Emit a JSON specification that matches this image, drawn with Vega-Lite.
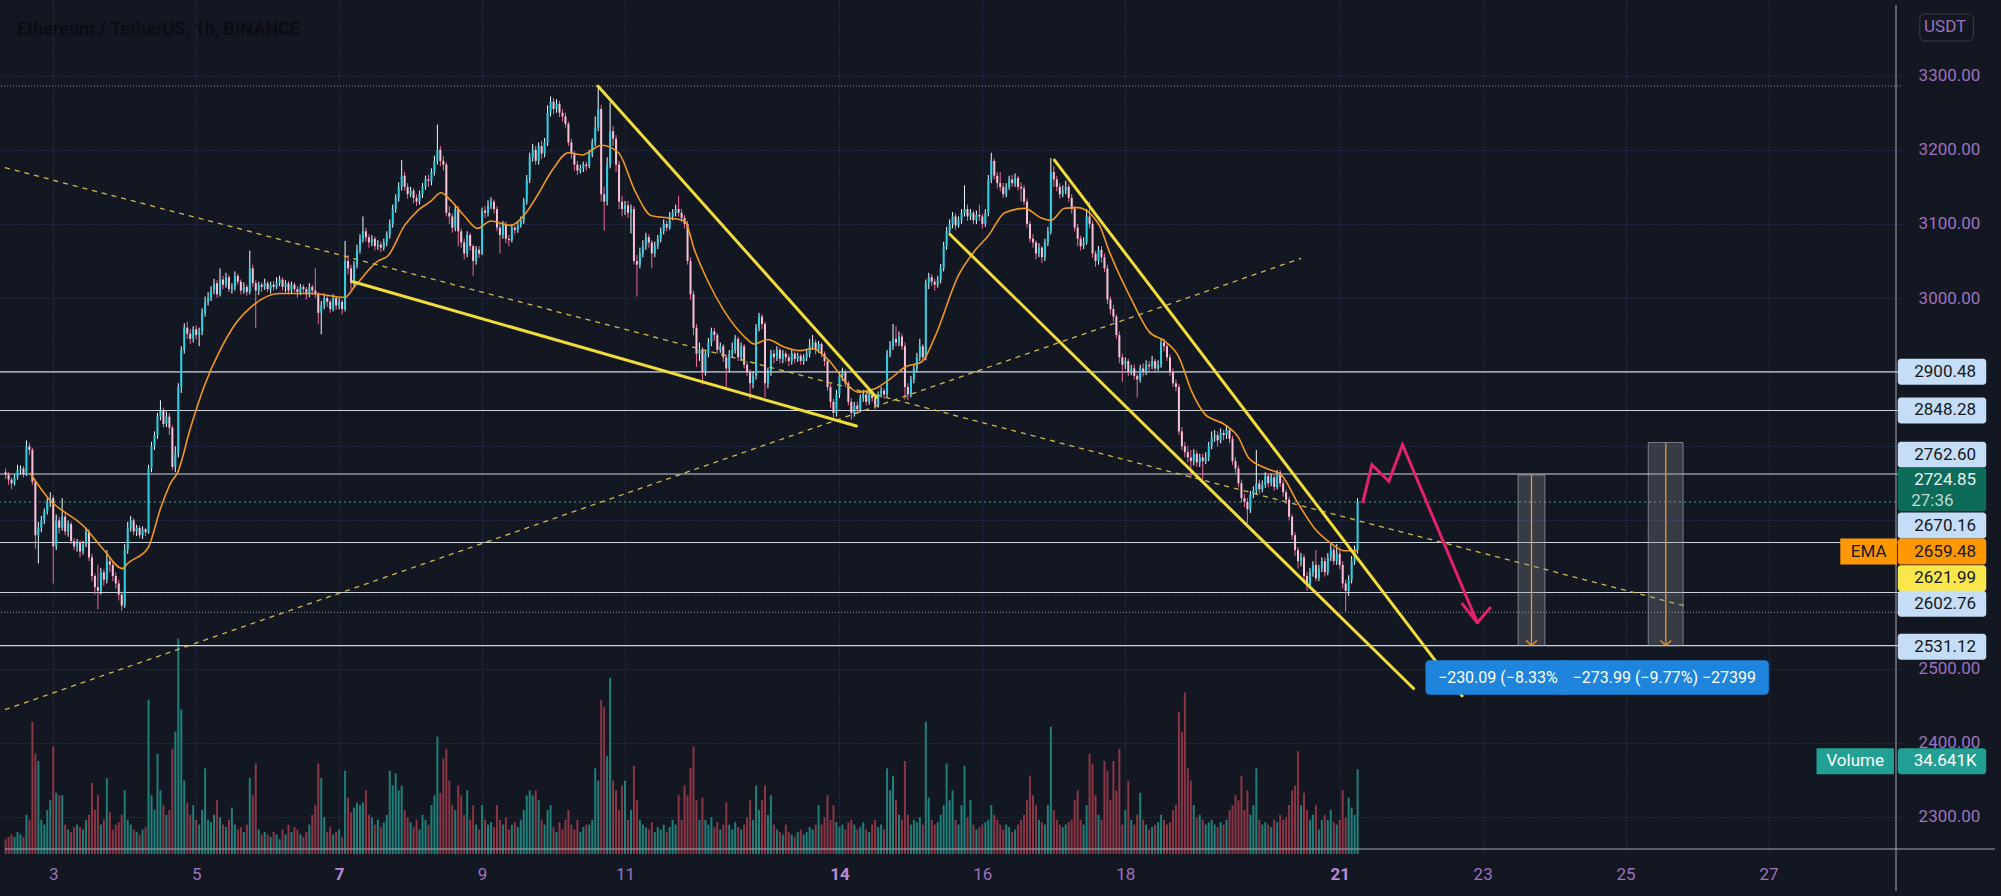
{
"$schema": "https://vega.github.io/schema/vega-lite/v6.json",
"width": 1901, "height": 854,
"autosize": {"type": "none"},
"padding": {"left": 0, "top": 0, "right": 100, "bottom": 42},
"background": "#131722",
"config": {"view": {"stroke": null}, "font": "Roboto"},
"datasets": {
"candles": [
{"t":32,"o":2765,"h":2770,"l":2756,"c":2762,"v":6},{"t":33,"o":2762,"h":2765,"l":2748,"c":2755,"v":7},{"t":34,"o":2755,"h":2758,"l":2742,"c":2750,"v":8},{"t":35,"o":2750,"h":2762,"l":2747,"c":2758,"v":7},{"t":36,"o":2758,"h":2775,"l":2755,"c":2768,"v":9},{"t":37,"o":2768,"h":2774,"l":2762,"c":2770,"v":8},{"t":38,"o":2770,"h":2773,"l":2758,"c":2762,"v":7},{"t":39,"o":2762,"h":2808,"l":2760,"c":2800,"v":16},{"t":40,"o":2800,"h":2805,"l":2788,"c":2795,"v":14},{"t":41,"o":2795,"h":2798,"l":2748,"c":2752,"v":54},
{"t":42,"o":2752,"h":2755,"l":2662,"c":2680,"v":41},{"t":43,"o":2680,"h":2698,"l":2642,"c":2690,"v":38},{"t":44,"o":2690,"h":2706,"l":2684,"c":2700,"v":14},{"t":45,"o":2700,"h":2716,"l":2695,"c":2712,"v":12},{"t":46,"o":2712,"h":2730,"l":2708,"c":2725,"v":18},{"t":47,"o":2725,"h":2738,"l":2718,"c":2730,"v":22},{"t":48,"o":2730,"h":2734,"l":2615,"c":2665,"v":44},{"t":49,"o":2665,"h":2708,"l":2660,"c":2700,"v":25},{"t":50,"o":2700,"h":2705,"l":2682,"c":2690,"v":24},{"t":51,"o":2690,"h":2730,"l":2686,"c":2705,"v":24},
{"t":52,"o":2705,"h":2710,"l":2680,"c":2685,"v":12},{"t":53,"o":2685,"h":2700,"l":2678,"c":2695,"v":10},{"t":54,"o":2695,"h":2698,"l":2668,"c":2672,"v":9},{"t":55,"o":2672,"h":2676,"l":2660,"c":2665,"v":11},{"t":56,"o":2665,"h":2675,"l":2658,"c":2670,"v":12},{"t":57,"o":2670,"h":2673,"l":2650,"c":2658,"v":11},{"t":58,"o":2658,"h":2672,"l":2654,"c":2668,"v":10},{"t":59,"o":2668,"h":2690,"l":2664,"c":2685,"v":14},{"t":60,"o":2685,"h":2688,"l":2645,"c":2650,"v":16},{"t":61,"o":2650,"h":2655,"l":2618,"c":2625,"v":29},
{"t":62,"o":2625,"h":2628,"l":2600,"c":2610,"v":18},{"t":63,"o":2610,"h":2640,"l":2580,"c":2605,"v":24},{"t":64,"o":2605,"h":2636,"l":2600,"c":2630,"v":12},{"t":65,"o":2630,"h":2634,"l":2612,"c":2620,"v":14},{"t":66,"o":2620,"h":2660,"l":2615,"c":2645,"v":31},{"t":67,"o":2645,"h":2650,"l":2630,"c":2640,"v":17},{"t":68,"o":2640,"h":2644,"l":2618,"c":2625,"v":10},{"t":69,"o":2625,"h":2630,"l":2608,"c":2615,"v":12},{"t":70,"o":2615,"h":2620,"l":2592,"c":2600,"v":13},{"t":71,"o":2600,"h":2604,"l":2578,"c":2585,"v":16},
{"t":72,"o":2585,"h":2668,"l":2582,"c":2660,"v":26},{"t":73,"o":2660,"h":2698,"l":2655,"c":2690,"v":14},{"t":74,"o":2690,"h":2706,"l":2685,"c":2700,"v":12},{"t":75,"o":2700,"h":2703,"l":2680,"c":2685,"v":10},{"t":76,"o":2685,"h":2694,"l":2679,"c":2690,"v":9},{"t":77,"o":2690,"h":2693,"l":2676,"c":2680,"v":8},{"t":78,"o":2680,"h":2692,"l":2675,"c":2688,"v":10},{"t":79,"o":2688,"h":2690,"l":2679,"c":2684,"v":11},{"t":80,"o":2684,"h":2775,"l":2682,"c":2770,"v":63},{"t":81,"o":2770,"h":2806,"l":2765,"c":2800,"v":24},
{"t":82,"o":2800,"h":2820,"l":2795,"c":2815,"v":18},{"t":83,"o":2815,"h":2845,"l":2810,"c":2840,"v":41},{"t":84,"o":2840,"h":2862,"l":2835,"c":2848,"v":26},{"t":85,"o":2848,"h":2852,"l":2825,"c":2830,"v":20},{"t":86,"o":2830,"h":2847,"l":2826,"c":2840,"v":16},{"t":87,"o":2840,"h":2845,"l":2815,"c":2825,"v":18},{"t":88,"o":2825,"h":2828,"l":2768,"c":2772,"v":43},{"t":89,"o":2772,"h":2800,"l":2765,"c":2790,"v":50},{"t":90,"o":2790,"h":2885,"l":2785,"c":2880,"v":88},{"t":91,"o":2880,"h":2935,"l":2872,"c":2930,"v":59},
{"t":92,"o":2930,"h":2966,"l":2925,"c":2960,"v":30},{"t":93,"o":2960,"h":2968,"l":2945,"c":2952,"v":21},{"t":94,"o":2952,"h":2958,"l":2938,"c":2945,"v":16},{"t":95,"o":2945,"h":2962,"l":2940,"c":2958,"v":20},{"t":96,"o":2958,"h":2963,"l":2944,"c":2950,"v":14},{"t":97,"o":2950,"h":2960,"l":2935,"c":2955,"v":12},{"t":98,"o":2955,"h":2986,"l":2950,"c":2980,"v":18},{"t":99,"o":2980,"h":3002,"l":2975,"c":2995,"v":35},{"t":100,"o":2995,"h":3008,"l":2990,"c":3000,"v":14},{"t":101,"o":3000,"h":3016,"l":2996,"c":3010,"v":13},
{"t":102,"o":3010,"h":3026,"l":3005,"c":3020,"v":16},{"t":103,"o":3020,"h":3024,"l":3000,"c":3005,"v":22},{"t":104,"o":3005,"h":3040,"l":3002,"c":3025,"v":15},{"t":105,"o":3025,"h":3030,"l":3012,"c":3018,"v":12},{"t":106,"o":3018,"h":3034,"l":3014,"c":3028,"v":11},{"t":107,"o":3028,"h":3031,"l":3008,"c":3012,"v":14},{"t":108,"o":3012,"h":3020,"l":3006,"c":3015,"v":19},{"t":109,"o":3015,"h":3036,"l":3010,"c":3030,"v":12},{"t":110,"o":3030,"h":3033,"l":3018,"c":3022,"v":10},{"t":111,"o":3022,"h":3025,"l":3005,"c":3010,"v":11},
{"t":112,"o":3010,"h":3021,"l":3006,"c":3015,"v":9},{"t":113,"o":3015,"h":3018,"l":3003,"c":3008,"v":12},{"t":114,"o":3008,"h":3064,"l":3005,"c":3040,"v":31},{"t":115,"o":3040,"h":3045,"l":3015,"c":3020,"v":24},{"t":116,"o":3020,"h":3024,"l":2960,"c":3010,"v":37},{"t":117,"o":3010,"h":3022,"l":3004,"c":3018,"v":10},{"t":118,"o":3018,"h":3021,"l":3008,"c":3015,"v":8},{"t":119,"o":3015,"h":3026,"l":3011,"c":3020,"v":9},{"t":120,"o":3020,"h":3023,"l":3008,"c":3012,"v":8},{"t":121,"o":3012,"h":3022,"l":3006,"c":3018,"v":7},
{"t":122,"o":3018,"h":3023,"l":3010,"c":3015,"v":9},{"t":123,"o":3015,"h":3028,"l":3012,"c":3020,"v":8},{"t":124,"o":3020,"h":3030,"l":3016,"c":3025,"v":6},{"t":125,"o":3025,"h":3028,"l":3010,"c":3015,"v":10},{"t":126,"o":3015,"h":3024,"l":3008,"c":3020,"v":8},{"t":127,"o":3020,"h":3023,"l":3005,"c":3010,"v":12},{"t":128,"o":3010,"h":3022,"l":3006,"c":3018,"v":9},{"t":129,"o":3018,"h":3021,"l":3008,"c":3012,"v":11},{"t":130,"o":3012,"h":3016,"l":3000,"c":3008,"v":10},{"t":131,"o":3008,"h":3019,"l":3004,"c":3015,"v":8},
{"t":132,"o":3015,"h":3018,"l":3007,"c":3012,"v":7},{"t":133,"o":3012,"h":3015,"l":2998,"c":3005,"v":9},{"t":134,"o":3005,"h":3020,"l":3001,"c":3015,"v":12},{"t":135,"o":3015,"h":3018,"l":3004,"c":3010,"v":16},{"t":136,"o":3010,"h":3040,"l":3000,"c":3005,"v":20},{"t":137,"o":3005,"h":3008,"l":2965,"c":2980,"v":37},{"t":138,"o":2980,"h":2996,"l":2951,"c":2990,"v":31},{"t":139,"o":2990,"h":3006,"l":2985,"c":3000,"v":15},{"t":140,"o":3000,"h":3004,"l":2988,"c":2995,"v":9},{"t":141,"o":2995,"h":2998,"l":2980,"c":2985,"v":11},
{"t":142,"o":2985,"h":3005,"l":2982,"c":3000,"v":8},{"t":143,"o":3000,"h":3003,"l":2984,"c":2990,"v":9},{"t":144,"o":2990,"h":3000,"l":2985,"c":2995,"v":10},{"t":145,"o":2995,"h":2998,"l":2978,"c":2985,"v":7},{"t":146,"o":2985,"h":3077,"l":2982,"c":3050,"v":34},{"t":147,"o":3050,"h":3058,"l":3032,"c":3040,"v":23},{"t":148,"o":3040,"h":3045,"l":3010,"c":3020,"v":17},{"t":149,"o":3020,"h":3050,"l":3016,"c":3045,"v":19},{"t":150,"o":3045,"h":3072,"l":3040,"c":3065,"v":21},{"t":151,"o":3065,"h":3086,"l":3060,"c":3080,"v":20},
{"t":152,"o":3080,"h":3110,"l":3075,"c":3090,"v":21},{"t":153,"o":3090,"h":3095,"l":3076,"c":3082,"v":26},{"t":154,"o":3082,"h":3086,"l":3068,"c":3075,"v":16},{"t":155,"o":3075,"h":3085,"l":3070,"c":3080,"v":15},{"t":156,"o":3080,"h":3083,"l":3064,"c":3070,"v":12},{"t":157,"o":3070,"h":3078,"l":3065,"c":3072,"v":14},{"t":158,"o":3072,"h":3076,"l":3062,"c":3068,"v":11},{"t":159,"o":3068,"h":3080,"l":3064,"c":3075,"v":13},{"t":160,"o":3075,"h":3090,"l":3070,"c":3085,"v":16},{"t":161,"o":3085,"h":3106,"l":3080,"c":3100,"v":34},
{"t":162,"o":3100,"h":3126,"l":3095,"c":3120,"v":28},{"t":163,"o":3120,"h":3140,"l":3115,"c":3135,"v":33},{"t":164,"o":3135,"h":3156,"l":3130,"c":3150,"v":26},{"t":165,"o":3150,"h":3186,"l":3145,"c":3165,"v":28},{"t":166,"o":3165,"h":3170,"l":3145,"c":3150,"v":18},{"t":167,"o":3150,"h":3155,"l":3134,"c":3140,"v":15},{"t":168,"o":3140,"h":3150,"l":3136,"c":3145,"v":13},{"t":169,"o":3145,"h":3148,"l":3128,"c":3135,"v":11},{"t":170,"o":3135,"h":3140,"l":3124,"c":3130,"v":14},{"t":171,"o":3130,"h":3145,"l":3126,"c":3140,"v":10},
{"t":172,"o":3140,"h":3155,"l":3135,"c":3150,"v":16},{"t":173,"o":3150,"h":3165,"l":3146,"c":3160,"v":14},{"t":174,"o":3160,"h":3166,"l":3150,"c":3158,"v":12},{"t":175,"o":3158,"h":3175,"l":3152,"c":3170,"v":20},{"t":176,"o":3170,"h":3192,"l":3165,"c":3185,"v":24},{"t":177,"o":3185,"h":3234,"l":3180,"c":3200,"v":48},{"t":178,"o":3200,"h":3205,"l":3178,"c":3185,"v":25},{"t":179,"o":3185,"h":3192,"l":3172,"c":3180,"v":39},{"t":180,"o":3180,"h":3183,"l":3110,"c":3115,"v":43},{"t":181,"o":3115,"h":3124,"l":3100,"c":3110,"v":30},
{"t":182,"o":3110,"h":3114,"l":3088,"c":3095,"v":20},{"t":183,"o":3095,"h":3126,"l":3090,"c":3120,"v":18},{"t":184,"o":3120,"h":3124,"l":3070,"c":3090,"v":28},{"t":185,"o":3090,"h":3094,"l":3068,"c":3075,"v":24},{"t":186,"o":3075,"h":3080,"l":3052,"c":3060,"v":16},{"t":187,"o":3060,"h":3090,"l":3055,"c":3085,"v":26},{"t":188,"o":3085,"h":3088,"l":3064,"c":3070,"v":14},{"t":189,"o":3070,"h":3072,"l":3030,"c":3050,"v":20},{"t":190,"o":3050,"h":3070,"l":3045,"c":3065,"v":12},{"t":191,"o":3065,"h":3070,"l":3054,"c":3060,"v":10},
{"t":192,"o":3060,"h":3122,"l":3058,"c":3118,"v":20},{"t":193,"o":3118,"h":3124,"l":3108,"c":3115,"v":14},{"t":194,"o":3115,"h":3132,"l":3110,"c":3125,"v":12},{"t":195,"o":3125,"h":3136,"l":3120,"c":3130,"v":13},{"t":196,"o":3130,"h":3133,"l":3114,"c":3120,"v":11},{"t":197,"o":3120,"h":3124,"l":3090,"c":3095,"v":20},{"t":198,"o":3095,"h":3100,"l":3060,"c":3085,"v":14},{"t":199,"o":3085,"h":3104,"l":3080,"c":3100,"v":12},{"t":200,"o":3100,"h":3103,"l":3074,"c":3080,"v":15},{"t":201,"o":3080,"h":3085,"l":3070,"c":3078,"v":10},
{"t":202,"o":3078,"h":3100,"l":3075,"c":3095,"v":12},{"t":203,"o":3095,"h":3098,"l":3086,"c":3092,"v":13},{"t":204,"o":3092,"h":3103,"l":3088,"c":3098,"v":11},{"t":205,"o":3098,"h":3110,"l":3095,"c":3105,"v":14},{"t":206,"o":3105,"h":3135,"l":3100,"c":3130,"v":18},{"t":207,"o":3130,"h":3166,"l":3126,"c":3160,"v":24},{"t":208,"o":3160,"h":3196,"l":3155,"c":3190,"v":26},{"t":209,"o":3190,"h":3208,"l":3184,"c":3200,"v":24},{"t":210,"o":3200,"h":3205,"l":3180,"c":3185,"v":26},{"t":211,"o":3185,"h":3210,"l":3180,"c":3205,"v":22},
{"t":212,"o":3205,"h":3212,"l":3188,"c":3195,"v":14},{"t":213,"o":3195,"h":3216,"l":3190,"c":3210,"v":12},{"t":214,"o":3210,"h":3260,"l":3205,"c":3250,"v":18},{"t":215,"o":3250,"h":3272,"l":3245,"c":3265,"v":20},{"t":216,"o":3265,"h":3270,"l":3248,"c":3255,"v":11},{"t":217,"o":3255,"h":3268,"l":3250,"c":3262,"v":9},{"t":218,"o":3262,"h":3266,"l":3244,"c":3250,"v":13},{"t":219,"o":3250,"h":3255,"l":3238,"c":3245,"v":10},{"t":220,"o":3245,"h":3250,"l":3230,"c":3235,"v":14},{"t":221,"o":3235,"h":3238,"l":3205,"c":3210,"v":18},
{"t":222,"o":3210,"h":3215,"l":3188,"c":3195,"v":12},{"t":223,"o":3195,"h":3198,"l":3172,"c":3180,"v":10},{"t":224,"o":3180,"h":3185,"l":3166,"c":3172,"v":14},{"t":225,"o":3172,"h":3180,"l":3168,"c":3175,"v":9},{"t":226,"o":3175,"h":3184,"l":3170,"c":3180,"v":11},{"t":227,"o":3180,"h":3184,"l":3172,"c":3178,"v":12},{"t":228,"o":3178,"h":3200,"l":3175,"c":3195,"v":12},{"t":229,"o":3195,"h":3215,"l":3190,"c":3210,"v":14},{"t":230,"o":3210,"h":3245,"l":3205,"c":3230,"v":35},{"t":231,"o":3230,"h":3286,"l":3225,"c":3255,"v":30},
{"t":232,"o":3255,"h":3260,"l":3130,"c":3140,"v":63},{"t":233,"o":3140,"h":3150,"l":3091,"c":3130,"v":60},{"t":234,"o":3130,"h":3190,"l":3125,"c":3180,"v":40},{"t":235,"o":3180,"h":3264,"l":3175,"c":3225,"v":72},{"t":236,"o":3225,"h":3232,"l":3205,"c":3215,"v":30},{"t":237,"o":3215,"h":3220,"l":3170,"c":3180,"v":26},{"t":238,"o":3180,"h":3185,"l":3120,"c":3130,"v":18},{"t":239,"o":3130,"h":3138,"l":3110,"c":3120,"v":28},{"t":240,"o":3120,"h":3131,"l":3112,"c":3125,"v":30},{"t":241,"o":3125,"h":3131,"l":3108,"c":3115,"v":14},
{"t":242,"o":3115,"h":3126,"l":3087,"c":3120,"v":18},{"t":243,"o":3120,"h":3124,"l":3045,"c":3050,"v":36},{"t":244,"o":3050,"h":3058,"l":3002,"c":3045,"v":22},{"t":245,"o":3045,"h":3068,"l":3040,"c":3060,"v":14},{"t":246,"o":3060,"h":3078,"l":3055,"c":3070,"v":12},{"t":247,"o":3070,"h":3088,"l":3065,"c":3082,"v":11},{"t":248,"o":3082,"h":3086,"l":3068,"c":3075,"v":10},{"t":249,"o":3075,"h":3078,"l":3040,"c":3060,"v":13},{"t":250,"o":3060,"h":3076,"l":3055,"c":3070,"v":9},{"t":251,"o":3070,"h":3085,"l":3066,"c":3080,"v":11},
{"t":252,"o":3080,"h":3095,"l":3075,"c":3090,"v":10},{"t":253,"o":3090,"h":3106,"l":3086,"c":3100,"v":12},{"t":254,"o":3100,"h":3104,"l":3090,"c":3095,"v":9},{"t":255,"o":3095,"h":3116,"l":3092,"c":3110,"v":11},{"t":256,"o":3110,"h":3120,"l":3105,"c":3115,"v":14},{"t":257,"o":3115,"h":3126,"l":3110,"c":3120,"v":12},{"t":258,"o":3120,"h":3138,"l":3110,"c":3115,"v":24},{"t":259,"o":3115,"h":3120,"l":3102,"c":3108,"v":14},{"t":260,"o":3108,"h":3112,"l":3094,"c":3100,"v":28},{"t":261,"o":3100,"h":3104,"l":3045,"c":3050,"v":24},
{"t":262,"o":3050,"h":3055,"l":2998,"c":3005,"v":35},{"t":263,"o":3005,"h":3010,"l":2950,"c":2960,"v":44},{"t":264,"o":2960,"h":2965,"l":2907,"c":2925,"v":22},{"t":265,"o":2925,"h":2940,"l":2915,"c":2930,"v":14},{"t":266,"o":2930,"h":2934,"l":2883,"c":2900,"v":23},{"t":267,"o":2900,"h":2930,"l":2895,"c":2925,"v":14},{"t":268,"o":2925,"h":2946,"l":2920,"c":2940,"v":12},{"t":269,"o":2940,"h":2960,"l":2935,"c":2955,"v":15},{"t":270,"o":2955,"h":2960,"l":2942,"c":2950,"v":11},{"t":271,"o":2950,"h":2953,"l":2925,"c":2930,"v":13},
{"t":272,"o":2930,"h":2940,"l":2926,"c":2935,"v":10},{"t":273,"o":2935,"h":2938,"l":2914,"c":2920,"v":12},{"t":274,"o":2920,"h":2924,"l":2880,"c":2905,"v":21},{"t":275,"o":2905,"h":2930,"l":2900,"c":2925,"v":12},{"t":276,"o":2925,"h":2940,"l":2920,"c":2930,"v":10},{"t":277,"o":2930,"h":2950,"l":2925,"c":2945,"v":13},{"t":278,"o":2945,"h":2948,"l":2915,"c":2920,"v":11},{"t":279,"o":2920,"h":2940,"l":2915,"c":2935,"v":10},{"t":280,"o":2935,"h":2938,"l":2905,"c":2910,"v":12},{"t":281,"o":2910,"h":2915,"l":2895,"c":2900,"v":15},
{"t":282,"o":2900,"h":2904,"l":2863,"c":2885,"v":22},{"t":283,"o":2885,"h":2900,"l":2878,"c":2895,"v":14},{"t":284,"o":2895,"h":2965,"l":2890,"c":2960,"v":28},{"t":285,"o":2960,"h":2980,"l":2955,"c":2975,"v":18},{"t":286,"o":2975,"h":2978,"l":2958,"c":2965,"v":22},{"t":287,"o":2965,"h":2968,"l":2866,"c":2885,"v":28},{"t":288,"o":2885,"h":2906,"l":2878,"c":2900,"v":16},{"t":289,"o":2900,"h":2930,"l":2895,"c":2925,"v":24},{"t":290,"o":2925,"h":2930,"l":2912,"c":2920,"v":12},{"t":291,"o":2920,"h":2935,"l":2915,"c":2930,"v":10},
{"t":292,"o":2930,"h":2933,"l":2912,"c":2918,"v":9},{"t":293,"o":2918,"h":2930,"l":2912,"c":2925,"v":8},{"t":294,"o":2925,"h":2928,"l":2914,"c":2920,"v":12},{"t":295,"o":2920,"h":2924,"l":2908,"c":2915,"v":9},{"t":296,"o":2915,"h":2930,"l":2910,"c":2925,"v":8},{"t":297,"o":2925,"h":2928,"l":2912,"c":2918,"v":7},{"t":298,"o":2918,"h":2926,"l":2914,"c":2922,"v":9},{"t":299,"o":2922,"h":2925,"l":2910,"c":2915,"v":10},{"t":300,"o":2915,"h":2924,"l":2910,"c":2920,"v":8},{"t":301,"o":2920,"h":2930,"l":2915,"c":2925,"v":9},
{"t":302,"o":2925,"h":2945,"l":2920,"c":2935,"v":11},{"t":303,"o":2935,"h":2950,"l":2930,"c":2940,"v":10},{"t":304,"o":2940,"h":2944,"l":2924,"c":2930,"v":12},{"t":305,"o":2930,"h":2942,"l":2926,"c":2938,"v":20},{"t":306,"o":2938,"h":2940,"l":2920,"c":2925,"v":12},{"t":307,"o":2925,"h":2928,"l":2908,"c":2915,"v":15},{"t":308,"o":2915,"h":2918,"l":2875,"c":2880,"v":24},{"t":309,"o":2880,"h":2884,"l":2852,"c":2860,"v":14},{"t":310,"o":2860,"h":2864,"l":2839,"c":2845,"v":20},{"t":311,"o":2845,"h":2876,"l":2840,"c":2870,"v":13},
{"t":312,"o":2870,"h":2900,"l":2865,"c":2895,"v":11},{"t":313,"o":2895,"h":2906,"l":2888,"c":2900,"v":12},{"t":314,"o":2900,"h":2904,"l":2880,"c":2885,"v":10},{"t":315,"o":2885,"h":2888,"l":2855,"c":2860,"v":13},{"t":316,"o":2860,"h":2865,"l":2836,"c":2845,"v":14},{"t":317,"o":2845,"h":2860,"l":2840,"c":2855,"v":12},{"t":318,"o":2855,"h":2860,"l":2845,"c":2850,"v":10},{"t":319,"o":2850,"h":2870,"l":2846,"c":2865,"v":11},{"t":320,"o":2865,"h":2876,"l":2860,"c":2870,"v":13},{"t":321,"o":2870,"h":2874,"l":2855,"c":2860,"v":10},
{"t":322,"o":2860,"h":2875,"l":2856,"c":2870,"v":9},{"t":323,"o":2870,"h":2874,"l":2860,"c":2865,"v":12},{"t":324,"o":2865,"h":2868,"l":2850,"c":2855,"v":14},{"t":325,"o":2855,"h":2874,"l":2852,"c":2870,"v":11},{"t":326,"o":2870,"h":2880,"l":2866,"c":2875,"v":12},{"t":327,"o":2875,"h":2878,"l":2864,"c":2870,"v":10},{"t":328,"o":2870,"h":2930,"l":2866,"c":2925,"v":35},{"t":329,"o":2925,"h":2942,"l":2920,"c":2935,"v":26},{"t":330,"o":2935,"h":2965,"l":2930,"c":2945,"v":32},{"t":331,"o":2945,"h":2962,"l":2935,"c":2940,"v":22},
{"t":332,"o":2940,"h":2955,"l":2935,"c":2948,"v":16},{"t":333,"o":2948,"h":2952,"l":2930,"c":2935,"v":14},{"t":334,"o":2935,"h":2940,"l":2863,"c":2880,"v":38},{"t":335,"o":2880,"h":2885,"l":2862,"c":2870,"v":16},{"t":336,"o":2870,"h":2895,"l":2866,"c":2890,"v":12},{"t":337,"o":2890,"h":2910,"l":2885,"c":2905,"v":14},{"t":338,"o":2905,"h":2926,"l":2900,"c":2920,"v":13},{"t":339,"o":2920,"h":2945,"l":2915,"c":2935,"v":15},{"t":340,"o":2935,"h":2938,"l":2914,"c":2920,"v":12},{"t":341,"o":2920,"h":3025,"l":2916,"c":3020,"v":54},
{"t":342,"o":3020,"h":3034,"l":3012,"c":3028,"v":23},{"t":343,"o":3028,"h":3032,"l":3016,"c":3022,"v":14},{"t":344,"o":3022,"h":3026,"l":3010,"c":3018,"v":12},{"t":345,"o":3018,"h":3030,"l":3014,"c":3025,"v":13},{"t":346,"o":3025,"h":3046,"l":3020,"c":3040,"v":16},{"t":347,"o":3040,"h":3076,"l":3036,"c":3070,"v":20},{"t":348,"o":3070,"h":3096,"l":3065,"c":3090,"v":37},{"t":349,"o":3090,"h":3106,"l":3085,"c":3100,"v":22},{"t":350,"o":3100,"h":3116,"l":3094,"c":3110,"v":26},{"t":351,"o":3110,"h":3114,"l":3092,"c":3098,"v":14},
{"t":352,"o":3098,"h":3110,"l":3095,"c":3105,"v":12},{"t":353,"o":3105,"h":3120,"l":3100,"c":3115,"v":20},{"t":354,"o":3115,"h":3152,"l":3110,"c":3120,"v":36},{"t":355,"o":3120,"h":3126,"l":3104,"c":3110,"v":15},{"t":356,"o":3110,"h":3120,"l":3105,"c":3115,"v":22},{"t":357,"o":3115,"h":3118,"l":3100,"c":3105,"v":12},{"t":358,"o":3105,"h":3118,"l":3100,"c":3112,"v":10},{"t":359,"o":3112,"h":3126,"l":3104,"c":3110,"v":11},{"t":360,"o":3110,"h":3114,"l":3094,"c":3100,"v":12},{"t":361,"o":3100,"h":3120,"l":3096,"c":3115,"v":13},
{"t":362,"o":3115,"h":3166,"l":3110,"c":3160,"v":14},{"t":363,"o":3160,"h":3196,"l":3155,"c":3185,"v":20},{"t":364,"o":3185,"h":3188,"l":3160,"c":3165,"v":16},{"t":365,"o":3165,"h":3170,"l":3148,"c":3155,"v":14},{"t":366,"o":3155,"h":3170,"l":3144,"c":3150,"v":12},{"t":367,"o":3150,"h":3155,"l":3135,"c":3140,"v":10},{"t":368,"o":3140,"h":3155,"l":3136,"c":3150,"v":12},{"t":369,"o":3150,"h":3165,"l":3146,"c":3160,"v":11},{"t":370,"o":3160,"h":3166,"l":3150,"c":3155,"v":9},{"t":371,"o":3155,"h":3168,"l":3150,"c":3162,"v":10},
{"t":372,"o":3162,"h":3165,"l":3145,"c":3150,"v":12},{"t":373,"o":3150,"h":3156,"l":3130,"c":3148,"v":14},{"t":374,"o":3148,"h":3152,"l":3125,"c":3130,"v":16},{"t":375,"o":3130,"h":3134,"l":3095,"c":3100,"v":22},{"t":376,"o":3100,"h":3104,"l":3075,"c":3080,"v":32},{"t":377,"o":3080,"h":3086,"l":3068,"c":3075,"v":24},{"t":378,"o":3075,"h":3078,"l":3052,"c":3060,"v":20},{"t":379,"o":3060,"h":3074,"l":3055,"c":3068,"v":14},{"t":380,"o":3068,"h":3070,"l":3047,"c":3055,"v":13},{"t":381,"o":3055,"h":3080,"l":3050,"c":3075,"v":12},
{"t":382,"o":3075,"h":3096,"l":3070,"c":3090,"v":20},{"t":383,"o":3090,"h":3189,"l":3086,"c":3170,"v":52},{"t":384,"o":3170,"h":3178,"l":3150,"c":3160,"v":18},{"t":385,"o":3160,"h":3165,"l":3144,"c":3150,"v":14},{"t":386,"o":3150,"h":3155,"l":3134,"c":3140,"v":12},{"t":387,"o":3140,"h":3152,"l":3136,"c":3145,"v":11},{"t":388,"o":3145,"h":3158,"l":3140,"c":3150,"v":12},{"t":389,"o":3150,"h":3154,"l":3130,"c":3135,"v":13},{"t":390,"o":3135,"h":3140,"l":3114,"c":3120,"v":14},{"t":391,"o":3120,"h":3124,"l":3090,"c":3095,"v":22},
{"t":392,"o":3095,"h":3100,"l":3070,"c":3080,"v":26},{"t":393,"o":3080,"h":3084,"l":3064,"c":3070,"v":14},{"t":394,"o":3070,"h":3082,"l":3066,"c":3075,"v":12},{"t":395,"o":3075,"h":3120,"l":3072,"c":3110,"v":20},{"t":396,"o":3110,"h":3130,"l":3094,"c":3100,"v":41},{"t":397,"o":3100,"h":3104,"l":3054,"c":3060,"v":37},{"t":398,"o":3060,"h":3064,"l":3042,"c":3050,"v":24},{"t":399,"o":3050,"h":3070,"l":3045,"c":3065,"v":16},{"t":400,"o":3065,"h":3070,"l":3048,"c":3055,"v":14},{"t":401,"o":3055,"h":3060,"l":3035,"c":3040,"v":38},
{"t":402,"o":3040,"h":3045,"l":2992,"c":2998,"v":34},{"t":403,"o":2998,"h":3002,"l":2978,"c":2985,"v":22},{"t":404,"o":2985,"h":2990,"l":2968,"c":2975,"v":38},{"t":405,"o":2975,"h":2978,"l":2945,"c":2950,"v":26},{"t":406,"o":2950,"h":2955,"l":2912,"c":2920,"v":43},{"t":407,"o":2920,"h":2925,"l":2887,"c":2910,"v":12},{"t":408,"o":2910,"h":2920,"l":2904,"c":2915,"v":18},{"t":409,"o":2915,"h":2918,"l":2895,"c":2900,"v":30},{"t":410,"o":2900,"h":2910,"l":2896,"c":2905,"v":14},{"t":411,"o":2905,"h":2910,"l":2890,"c":2895,"v":12},
{"t":412,"o":2895,"h":2898,"l":2866,"c":2890,"v":16},{"t":413,"o":2890,"h":2910,"l":2886,"c":2905,"v":25},{"t":414,"o":2905,"h":2912,"l":2894,"c":2900,"v":14},{"t":415,"o":2900,"h":2916,"l":2896,"c":2910,"v":12},{"t":416,"o":2910,"h":2915,"l":2902,"c":2908,"v":10},{"t":417,"o":2908,"h":2922,"l":2904,"c":2915,"v":11},{"t":418,"o":2915,"h":2918,"l":2900,"c":2905,"v":12},{"t":419,"o":2905,"h":2916,"l":2902,"c":2910,"v":13},{"t":420,"o":2910,"h":2946,"l":2906,"c":2940,"v":16},{"t":421,"o":2940,"h":2945,"l":2928,"c":2935,"v":14},
{"t":422,"o":2935,"h":2940,"l":2915,"c":2920,"v":12},{"t":423,"o":2920,"h":2924,"l":2895,"c":2900,"v":13},{"t":424,"o":2900,"h":2905,"l":2880,"c":2885,"v":18},{"t":425,"o":2885,"h":2890,"l":2874,"c":2880,"v":20},{"t":426,"o":2880,"h":2884,"l":2815,"c":2820,"v":58},{"t":427,"o":2820,"h":2826,"l":2795,"c":2800,"v":50},{"t":428,"o":2800,"h":2806,"l":2785,"c":2792,"v":66},{"t":429,"o":2792,"h":2800,"l":2778,"c":2785,"v":35},{"t":430,"o":2785,"h":2795,"l":2757,"c":2780,"v":30},{"t":431,"o":2780,"h":2796,"l":2774,"c":2790,"v":20},
{"t":432,"o":2790,"h":2794,"l":2772,"c":2778,"v":15},{"t":433,"o":2778,"h":2790,"l":2772,"c":2785,"v":16},{"t":434,"o":2785,"h":2790,"l":2755,"c":2780,"v":14},{"t":435,"o":2780,"h":2792,"l":2776,"c":2785,"v":12},{"t":436,"o":2785,"h":2806,"l":2780,"c":2800,"v":13},{"t":437,"o":2800,"h":2820,"l":2796,"c":2812,"v":14},{"t":438,"o":2812,"h":2822,"l":2806,"c":2815,"v":12},{"t":439,"o":2815,"h":2820,"l":2800,"c":2808,"v":11},{"t":440,"o":2808,"h":2824,"l":2804,"c":2818,"v":13},{"t":441,"o":2818,"h":2822,"l":2808,"c":2815,"v":12},
{"t":442,"o":2815,"h":2828,"l":2810,"c":2822,"v":14},{"t":443,"o":2822,"h":2825,"l":2804,"c":2810,"v":18},{"t":444,"o":2810,"h":2814,"l":2775,"c":2780,"v":20},{"t":445,"o":2780,"h":2785,"l":2764,"c":2770,"v":24},{"t":446,"o":2770,"h":2774,"l":2745,"c":2750,"v":22},{"t":447,"o":2750,"h":2755,"l":2724,"c":2730,"v":32},{"t":448,"o":2730,"h":2736,"l":2718,"c":2725,"v":18},{"t":449,"o":2725,"h":2730,"l":2696,"c":2715,"v":26},{"t":450,"o":2715,"h":2740,"l":2710,"c":2735,"v":16},{"t":451,"o":2735,"h":2746,"l":2730,"c":2740,"v":20},
{"t":452,"o":2740,"h":2795,"l":2735,"c":2750,"v":35},{"t":453,"o":2750,"h":2755,"l":2736,"c":2742,"v":14},{"t":454,"o":2742,"h":2754,"l":2738,"c":2748,"v":12},{"t":455,"o":2748,"h":2765,"l":2744,"c":2760,"v":13},{"t":456,"o":2760,"h":2764,"l":2745,"c":2750,"v":12},{"t":457,"o":2750,"h":2763,"l":2746,"c":2758,"v":11},{"t":458,"o":2758,"h":2762,"l":2740,"c":2745,"v":14},{"t":459,"o":2745,"h":2768,"l":2742,"c":2765,"v":13},{"t":460,"o":2765,"h":2768,"l":2745,"c":2750,"v":16},{"t":461,"o":2750,"h":2754,"l":2732,"c":2738,"v":14},
{"t":462,"o":2738,"h":2742,"l":2722,"c":2728,"v":15},{"t":463,"o":2728,"h":2732,"l":2700,"c":2705,"v":20},{"t":464,"o":2705,"h":2708,"l":2674,"c":2680,"v":26},{"t":465,"o":2680,"h":2684,"l":2652,"c":2660,"v":28},{"t":466,"o":2660,"h":2664,"l":2635,"c":2645,"v":42},{"t":467,"o":2645,"h":2656,"l":2638,"c":2650,"v":20},{"t":468,"o":2650,"h":2654,"l":2615,"c":2625,"v":25},{"t":469,"o":2625,"h":2630,"l":2605,"c":2612,"v":18},{"t":470,"o":2612,"h":2636,"l":2608,"c":2630,"v":14},{"t":471,"o":2630,"h":2645,"l":2624,"c":2640,"v":16},
{"t":472,"o":2640,"h":2660,"l":2618,"c":2622,"v":20},{"t":473,"o":2622,"h":2640,"l":2618,"c":2635,"v":10},{"t":474,"o":2635,"h":2650,"l":2630,"c":2645,"v":14},{"t":475,"o":2645,"h":2650,"l":2624,"c":2630,"v":16},{"t":476,"o":2630,"h":2656,"l":2626,"c":2650,"v":14},{"t":477,"o":2650,"h":2670,"l":2645,"c":2660,"v":18},{"t":478,"o":2660,"h":2664,"l":2640,"c":2645,"v":13},{"t":479,"o":2645,"h":2668,"l":2640,"c":2655,"v":12},{"t":480,"o":2655,"h":2660,"l":2634,"c":2640,"v":14},{"t":481,"o":2640,"h":2645,"l":2608,"c":2615,"v":26},
{"t":482,"o":2615,"h":2620,"l":2577,"c":2605,"v":15},{"t":483,"o":2605,"h":2626,"l":2598,"c":2620,"v":23},{"t":484,"o":2620,"h":2652,"l":2615,"c":2645,"v":19},{"t":485,"o":2645,"h":2666,"l":2640,"c":2660,"v":16},{"t":486,"o":2660,"h":2730,"l":2655,"c":2724.85,"v":34.641}
],
"ema": [
{"t":40.2,"e":2764},{"t":46.3,"e":2730},{"t":58.5,"e":2691},{"t":65.2,"e":2659},{"t":71.3,"e":2635},{"t":73,"e":2642},{"t":79.7,"e":2662},{"t":84.1,"e":2717},{"t":87.5,"e":2751},{"t":89.7,"e":2764},{"t":94.1,"e":2825},{"t":98.6,"e":2880},{"t":104.2,"e":2931},{"t":109.7,"e":2968},{"t":114.2,"e":2987},{"t":123.7,"e":3006},{"t":134.8,"e":3006},{"t":145.9,"e":3001},{"t":149.3,"e":3016},{"t":157.1,"e":3050},{"t":160.4,"e":3057},{"t":166,"e":3098},{"t":170.4,"e":3118},{"t":174.9,"e":3131},{"t":178.2,"e":3142},{"t":181.6,"e":3131},{"t":186,"e":3111},{"t":190.5,"e":3094},{"t":194.9,"e":3104},{"t":201.6,"e":3098},{"t":206,"e":3111},{"t":210.5,"e":3138},{"t":215.5,"e":3172},{"t":221,"e":3196},{"t":225.5,"e":3193},{"t":232.2,"e":3206},{"t":237.8,"e":3196},{"t":243.3,"e":3145},{"t":248.9,"e":3111},{"t":254.5,"e":3108},{"t":260,"e":3104},{"t":263.4,"e":3064},{"t":267.8,"e":3023},{"t":273.4,"e":2982},{"t":280.1,"e":2948},{"t":283.4,"e":2938},{"t":287.9,"e":2944},{"t":293.4,"e":2934},{"t":299,"e":2929},{"t":303,"e":2932},{"t":307.4,"e":2920},{"t":318.5,"e":2873},{"t":324.1,"e":2878},{"t":329.7,"e":2893},{"t":334.1,"e":2907},{"t":339.7,"e":2914},{"t":344.1,"e":2948},{"t":351.9,"e":3030},{"t":357.5,"e":3064},{"t":362,"e":3084},{"t":367.5,"e":3115},{"t":374.2,"e":3121},{"t":379.8,"e":3108},{"t":383.1,"e":3105},{"t":387.6,"e":3121},{"t":392,"e":3122},{"t":399.3,"e":3098},{"t":402.5,"e":3064},{"t":410.3,"e":2996},{"t":415.9,"e":2955},{"t":421.5,"e":2941},{"t":425.9,"e":2921},{"t":430.4,"e":2873},{"t":434.8,"e":2843},{"t":441.5,"e":2829},{"t":446,"e":2812},{"t":449.3,"e":2785},{"t":454.9,"e":2771},{"t":460.4,"e":2761},{"t":466,"e":2723},{"t":471.6,"e":2689},{"t":477.1,"e":2669},{"t":481.6,"e":2659},{"t":486,"e":2659.48}
],
"hlines": [
{"p":2900.48,"k":"s"},{"p":2848.28,"k":"s"},{"p":2762.60,"k":"s"},{"p":2670.16,"k":"s"},{"p":2602.76,"k":"s"},{"p":2531.12,"k":"s"},
{"p":3286,"k":"d"},{"p":2576,"k":"d"},{"p":2724.85,"k":"p"}
],
"segs": [
{"k":"dash","t1":31.8,"p1":3175.9,"t2":596.6,"p2":2584},
{"k":"dash","t1":31.8,"p1":2444.7,"t2":467,"p2":3053.5},
{"k":"yl","t1":148.7,"p1":3022,"t2":317.7,"p2":2827.3},
{"k":"yl","t1":230.9,"p1":3286,"t2":324.4,"p2":2866},
{"k":"yl","t1":349.1,"p1":3086,"t2":504.8,"p2":2473.2},
{"k":"yl","t1":384.2,"p1":3186,"t2":521.1,"p2":2463.3},
{"k":"pk","t1":526.2,"p1":2562,"t2":521.2,"p2":2587.3},
{"k":"pk","t1":526.2,"p1":2562,"t2":530.5,"p2":2582},
{"k":"or","t1":544.4,"p1":2761.2,"t2":544.4,"p2":2531.12},
{"k":"or","t1":544.4,"p1":2531.12,"t2":542.6,"p2":2538},
{"k":"or","t1":544.4,"p1":2531.12,"t2":546.2,"p2":2538},
{"k":"or","t1":589.5,"p1":2805.11,"t2":589.5,"p2":2531.12},
{"k":"or","t1":589.5,"p1":2531.12,"t2":587.7,"p2":2538},
{"k":"or","t1":589.5,"p1":2531.12,"t2":591.3,"p2":2538},
{"k":"bd","t1":31.8,"p1":2256.7,"t2":700,"p2":2256.7},
{"k":"bd","t1":666.8,"p1":3395.3,"t2":666.8,"p2":2200}
],
"pink": [
{"i":0,"t":487.7,"p":2723.3},{"i":1,"t":490.8,"p":2775.3},{"i":2,"t":496.5,"p":2752.7},{"i":3,"t":501.1,"p":2802},{"i":4,"t":526.2,"p":2562}
],
"rects": [
{"t1":539.9,"t2":548.9,"p1":2761.21,"p2":2531.12},
{"t1":583.6,"t2":595.3,"p1":2805.11,"p2":2531.12}
],
"mboxes": [
{"n":1,"t1":508.8,"t2":557.9,"p1":2511.3,"p2":2464.7,"tx":513,"txt":"−230.09 (−8.33%"},
{"n":2,"t1":553.9,"t2":624.1,"p1":2511.3,"p2":2464.7,"tx":589,"txt":"−273.99 (−9.77%) −27399"}
],
"rlabels": [
{"txt":"2900.48","at":2900.48,"k":"line"},{"txt":"2848.28","at":2848.28,"k":"line"},{"txt":"2762.60","at":2788.7,"k":"line"},{"txt":"2670.16","at":2693,"k":"line"},{"txt":"2659.48","at":2658,"k":"ema"},{"txt":"2621.99","at":2622,"k":"yel"},{"txt":"2602.76","at":2587.7,"k":"line"},{"txt":"2531.12","at":2529.6,"k":"line"},{"txt":"34.641K","at":2375,"k":"vol"}
],
"tags": [
{"txt":"EMA","t1":648.1,"t2":667.1,"at":2658,"tx":657.6,"k":"ema"},
{"txt":"Volume","t1":640.1,"t2":666.1,"at":2375,"tx":653.1,"k":"vol"}
],
"last": [{"txt":"2724.85","cd":"27:36","at":2742,"a1":2754,"a2":2726}],
"title": [{"txt":"Ethereum / TetherUS, 1h, BINANCE","t":35.8,"p":3362}],
"unit": [{"txt":"USDT","t":683.3,"p":3365}]
},
"layer": [
{
"data": {"name": "candles"},
"mark": {"type": "bar", "orient": "vertical", "size": 2},
"encoding": {
"x": {"field": "t", "type": "quantitative", "scale": {"domain": [31.8, 666.8], "nice": false, "zero": false},
"axis": {"values": [48,96,144,192,240,312,360,408,480,528,576,624], "labelExpr": "datum.value/24+1", "title": null, "grid": true, "gridColor": "#353a6b", "gridDash": [1,2], "gridWidth": 1, "ticks": false, "domain": false, "labelColor": {"condition": {"test": "datum.value==144||datum.value==312||datum.value==480", "value": "#b98ad9"}, "value": "#9d72bd"}, "labelFontWeight": {"condition": {"test": "datum.value==144||datum.value==312||datum.value==480", "value": "bold"}, "value": "normal"}, "labelFontSize": 17, "labelFont": "Roboto", "labelPadding": 12, "labelBaseline": "top", "labelFlush": false, "labelOverlap": false}},
"y": {"field": "v", "type": "quantitative", "scale": {"domain": [0, 349], "nice": false, "zero": false}, "axis": null},
"color": {"condition": {"test": "datum.c>=datum.o", "value": "#1f7f79"}, "value": "#8c3645"}
}
},
{
"layer": [
{
"data": {"name": "hlines"},
"transform": [{"filter": "datum.k=='s'"}],
"mark": {"type": "rule", "color": "#cfd3dc", "strokeWidth": 1.2},
"encoding": {
"y": {"field": "p", "type": "quantitative", "title": null, "scale": {"domain": [2256.7, 3395.3], "nice": false, "zero": false},
"axis": {"orient": "right", "values": [3300,3200,3100,3000,2900,2800,2700,2600,2500,2400,2300], "labelExpr": "(datum.value>=2600 && datum.value<=2900) ? '' : format(datum.value, '.2f')", "title": null, "grid": true, "gridColor": "#353a6b", "gridDash": [1,2], "ticks": false, "domain": false, "labelColor": "#9d72bd", "labelFontSize": 17, "labelFont": "Roboto", "labelAlign": "center", "labelBaseline": "middle", "labelPadding": 48, "labelOverlap": false, "labelFlush": false}}
}
},
{
"data": {"name": "hlines"},
"transform": [{"filter": "datum.k=='d'"}],
"mark": {"type": "rule", "color": "#8e92a3", "strokeWidth": 1, "strokeDash": [1, 2]},
"encoding": {"y": {"field": "p", "type": "quantitative", "title": null, "scale": {"domain": [2256.7, 3395.3], "nice": false, "zero": false}}}
},
{
"data": {"name": "hlines"},
"transform": [{"filter": "datum.k=='p'"}],
"mark": {"type": "rule", "color": "#5c9a90", "strokeWidth": 1, "strokeDash": [2, 3]},
"encoding": {"y": {"field": "p", "type": "quantitative", "title": null, "scale": {"domain": [2256.7, 3395.3], "nice": false, "zero": false}}}
},
{
"data": {"name": "candles"},
"mark": {"type": "rule", "strokeWidth": 1},
"encoding": {
"x": {"field": "t", "type": "quantitative", "title": null, "scale": {"domain": [31.8, 666.8], "nice": false, "zero": false}},
"y": {"field": "l", "type": "quantitative", "title": null, "scale": {"domain": [2256.7, 3395.3], "nice": false, "zero": false}},
"y2": {"field": "h"},
"color": {"condition": {"test": "datum.c>=datum.o", "value": "#e8fbfd"}, "value": "#f06a9a"}
}
},
{
"data": {"name": "candles"},
"mark": {"type": "bar", "orient": "vertical", "size": 2},
"encoding": {
"x": {"field": "t", "type": "quantitative", "title": null, "scale": {"domain": [31.8, 666.8], "nice": false, "zero": false}},
"y": {"field": "o", "type": "quantitative", "title": null, "scale": {"domain": [2256.7, 3395.3], "nice": false, "zero": false}},
"y2": {"field": "c"},
"color": {"condition": {"test": "datum.c>=datum.o", "value": "#2cd0e3"}, "value": "#f7c3d6"}
}
},
{
"data": {"name": "ema"},
"mark": {"type": "line", "color": "#f0981f", "strokeWidth": 1.6, "interpolate": "monotone"},
"encoding": {
"x": {"field": "t", "type": "quantitative", "title": null, "scale": {"domain": [31.8, 666.8], "nice": false, "zero": false}},
"y": {"field": "e", "type": "quantitative", "title": null, "scale": {"domain": [2256.7, 3395.3], "nice": false, "zero": false}}
}
},
{
"data": {"name": "segs"},
"transform": [{"filter": "datum.k=='dash'"}],
"mark": {"type": "rule", "color": "#cdbb4c", "strokeWidth": 1.3, "strokeDash": [5, 5]},
"encoding": {
"x": {"field": "t1", "type": "quantitative", "title": null, "scale": {"domain": [31.8, 666.8], "nice": false, "zero": false}},
"x2": {"field": "t2"},
"y": {"field": "p1", "type": "quantitative", "title": null, "scale": {"domain": [2256.7, 3395.3], "nice": false, "zero": false}},
"y2": {"field": "p2"}
}
},
{
"data": {"name": "rects"},
"mark": {"type": "rect", "fill": "#8a8d99", "fillOpacity": 0.3, "stroke": "#b2b5be", "strokeOpacity": 0.6, "strokeWidth": 1},
"encoding": {
"x": {"field": "t1", "type": "quantitative", "title": null, "scale": {"domain": [31.8, 666.8], "nice": false, "zero": false}},
"x2": {"field": "t2"},
"y": {"field": "p1", "type": "quantitative", "title": null, "scale": {"domain": [2256.7, 3395.3], "nice": false, "zero": false}},
"y2": {"field": "p2"}
}
},
{
"data": {"name": "segs"},
"transform": [{"filter": "datum.k=='or'"}],
"mark": {"type": "rule", "color": "#e8953a", "strokeWidth": 1.3},
"encoding": {
"x": {"field": "t1", "type": "quantitative", "title": null, "scale": {"domain": [31.8, 666.8], "nice": false, "zero": false}},
"x2": {"field": "t2"},
"y": {"field": "p1", "type": "quantitative", "title": null, "scale": {"domain": [2256.7, 3395.3], "nice": false, "zero": false}},
"y2": {"field": "p2"}
}
},
{
"data": {"name": "segs"},
"transform": [{"filter": "datum.k=='yl'"}],
"mark": {"type": "rule", "color": "#f2dc3a", "strokeWidth": 3, "strokeCap": "round"},
"encoding": {
"x": {"field": "t1", "type": "quantitative", "title": null, "scale": {"domain": [31.8, 666.8], "nice": false, "zero": false}},
"x2": {"field": "t2"},
"y": {"field": "p1", "type": "quantitative", "title": null, "scale": {"domain": [2256.7, 3395.3], "nice": false, "zero": false}},
"y2": {"field": "p2"}
}
},
{
"data": {"name": "pink"},
"mark": {"type": "line", "color": "#e3226a", "strokeWidth": 3, "strokeJoin": "miter"},
"encoding": {
"x": {"field": "t", "type": "quantitative", "title": null, "scale": {"domain": [31.8, 666.8], "nice": false, "zero": false}},
"y": {"field": "p", "type": "quantitative", "title": null, "scale": {"domain": [2256.7, 3395.3], "nice": false, "zero": false}},
"order": {"field": "i"}
}
},
{
"data": {"name": "segs"},
"transform": [{"filter": "datum.k=='pk'"}],
"mark": {"type": "rule", "color": "#e3226a", "strokeWidth": 3, "strokeCap": "round"},
"encoding": {
"x": {"field": "t1", "type": "quantitative", "title": null, "scale": {"domain": [31.8, 666.8], "nice": false, "zero": false}},
"x2": {"field": "t2"},
"y": {"field": "p1", "type": "quantitative", "title": null, "scale": {"domain": [2256.7, 3395.3], "nice": false, "zero": false}},
"y2": {"field": "p2"}
}
},
{
"data": {"name": "mboxes"},
"transform": [{"filter": "datum.n==1"}],
"layer": [
{"mark": {"type": "rect", "fill": "#1e84dc", "cornerRadius": 4},
"encoding": {
"x": {"field": "t1", "type": "quantitative", "title": null, "scale": {"domain": [31.8, 666.8], "nice": false, "zero": false}},
"x2": {"field": "t2"},
"y": {"field": "p1", "type": "quantitative", "title": null, "scale": {"domain": [2256.7, 3395.3], "nice": false, "zero": false}},
"y2": {"field": "p2"}}},
{"mark": {"type": "text", "color": "#ffffff", "fontSize": 16, "font": "Roboto", "align": "left", "baseline": "middle"},
"encoding": {
"x": {"field": "tx", "type": "quantitative", "title": null, "scale": {"domain": [31.8, 666.8], "nice": false, "zero": false}},
"y": {"datum": 2488, "type": "quantitative", "scale": {"domain": [2256.7, 3395.3], "nice": false, "zero": false}},
"text": {"field": "txt"}}}
]
},
{
"data": {"name": "mboxes"},
"transform": [{"filter": "datum.n==2"}],
"layer": [
{"mark": {"type": "rect", "fill": "#1e84dc", "cornerRadius": 4},
"encoding": {
"x": {"field": "t1", "type": "quantitative", "title": null, "scale": {"domain": [31.8, 666.8], "nice": false, "zero": false}},
"x2": {"field": "t2"},
"y": {"field": "p1", "type": "quantitative", "title": null, "scale": {"domain": [2256.7, 3395.3], "nice": false, "zero": false}},
"y2": {"field": "p2"}}},
{"mark": {"type": "text", "color": "#ffffff", "fontSize": 16, "font": "Roboto", "align": "center", "baseline": "middle"},
"encoding": {
"x": {"field": "tx", "type": "quantitative", "title": null, "scale": {"domain": [31.8, 666.8], "nice": false, "zero": false}},
"y": {"datum": 2488, "type": "quantitative", "scale": {"domain": [2256.7, 3395.3], "nice": false, "zero": false}},
"text": {"field": "txt"}}}
]
},
{
"data": {"name": "segs"},
"transform": [{"filter": "datum.k=='bd'"}],
"mark": {"type": "rule", "color": "#a3a6b3", "strokeWidth": 1},
"encoding": {
"x": {"field": "t1", "type": "quantitative", "title": null, "scale": {"domain": [31.8, 666.8], "nice": false, "zero": false}},
"x2": {"field": "t2"},
"y": {"field": "p1", "type": "quantitative", "title": null, "scale": {"domain": [2256.7, 3395.3], "nice": false, "zero": false}},
"y2": {"field": "p2"}
}
},
{
"data": {"name": "rlabels"},
"mark": {"type": "bar", "orient": "horizontal", "size": 26, "cornerRadiusEnd": 3},
"encoding": {
"x": {"datum": 667.4, "type": "quantitative", "scale": {"domain": [31.8, 666.8], "nice": false, "zero": false}},
"x2": {"datum": 697.1},
"y": {"field": "at", "type": "quantitative", "title": null, "scale": {"domain": [2256.7, 3395.3], "nice": false, "zero": false}},
"color": {"field": "k", "type": "nominal", "scale": {"domain": ["line", "ema", "yel", "vol"], "range": ["#c6ddf7", "#ff9800", "#fbe74c", "#22a093"]}, "legend": null}
}
},
{
"data": {"name": "rlabels"},
"mark": {"type": "text", "fontSize": 17, "font": "Roboto", "align": "center", "baseline": "middle"},
"encoding": {
"x": {"datum": 683.3, "type": "quantitative", "scale": {"domain": [31.8, 666.8], "nice": false, "zero": false}},
"y": {"field": "at", "type": "quantitative", "title": null, "scale": {"domain": [2256.7, 3395.3], "nice": false, "zero": false}},
"text": {"field": "txt"},
"color": {"condition": {"test": "datum.k=='vol'", "value": "#ffffff"}, "value": "#131722"}
}
},
{
"data": {"name": "tags"},
"mark": {"type": "bar", "orient": "horizontal", "size": 26, "cornerRadiusStart": 3},
"encoding": {
"x": {"field": "t1", "type": "quantitative", "title": null, "scale": {"domain": [31.8, 666.8], "nice": false, "zero": false}},
"x2": {"field": "t2"},
"y": {"field": "at", "type": "quantitative", "title": null, "scale": {"domain": [2256.7, 3395.3], "nice": false, "zero": false}},
"color": {"field": "k", "type": "nominal", "scale": {"domain": ["line", "ema", "yel", "vol"], "range": ["#c6ddf7", "#ff9800", "#fbe74c", "#22a093"]}, "legend": null}
}
},
{
"data": {"name": "tags"},
"mark": {"type": "text", "fontSize": 17, "font": "Roboto", "align": "center", "baseline": "middle"},
"encoding": {
"x": {"field": "tx", "type": "quantitative", "title": null, "scale": {"domain": [31.8, 666.8], "nice": false, "zero": false}},
"y": {"field": "at", "type": "quantitative", "title": null, "scale": {"domain": [2256.7, 3395.3], "nice": false, "zero": false}},
"text": {"field": "txt"},
"color": {"condition": {"test": "datum.k=='vol'", "value": "#ffffff"}, "value": "#131722"}
}
},
{
"data": {"name": "last"},
"mark": {"type": "bar", "orient": "horizontal", "size": 44, "cornerRadiusEnd": 3, "color": "#0d6b59"},
"encoding": {
"x": {"datum": 667.4, "type": "quantitative", "scale": {"domain": [31.8, 666.8], "nice": false, "zero": false}},
"x2": {"datum": 697.1},
"y": {"field": "at", "type": "quantitative", "title": null, "scale": {"domain": [2256.7, 3395.3], "nice": false, "zero": false}}
}
},
{
"data": {"name": "last"},
"mark": {"type": "text", "fontSize": 17, "font": "Roboto", "align": "center", "baseline": "middle", "color": "#e8f5f2"},
"encoding": {
"x": {"datum": 683.3, "type": "quantitative", "scale": {"domain": [31.8, 666.8], "nice": false, "zero": false}},
"y": {"field": "a1", "type": "quantitative", "title": null, "scale": {"domain": [2256.7, 3395.3], "nice": false, "zero": false}},
"text": {"field": "txt"}
}
},
{
"data": {"name": "last"},
"mark": {"type": "text", "fontSize": 17, "font": "Roboto", "align": "center", "baseline": "middle", "color": "#b9dcd5"},
"encoding": {
"x": {"datum": 679, "type": "quantitative", "scale": {"domain": [31.8, 666.8], "nice": false, "zero": false}},
"y": {"field": "a2", "type": "quantitative", "title": null, "scale": {"domain": [2256.7, 3395.3], "nice": false, "zero": false}},
"text": {"field": "cd"}
}
},
{
"data": {"name": "unit"},
"mark": {"type": "bar", "orient": "horizontal", "size": 27, "cornerRadius": 5, "color": "#131722", "stroke": "#3a3e4a", "strokeWidth": 1},
"encoding": {
"x": {"datum": 674.8, "type": "quantitative", "scale": {"domain": [31.8, 666.8], "nice": false, "zero": false}},
"x2": {"datum": 692.8},
"y": {"field": "p", "type": "quantitative", "title": null, "scale": {"domain": [2256.7, 3395.3], "nice": false, "zero": false}}
}
},
{
"data": {"name": "unit"},
"mark": {"type": "text", "fontSize": 17, "font": "Roboto", "align": "center", "baseline": "middle", "color": "#9d72bd"},
"encoding": {
"x": {"field": "t", "type": "quantitative", "title": null, "scale": {"domain": [31.8, 666.8], "nice": false, "zero": false}},
"y": {"field": "p", "type": "quantitative", "title": null, "scale": {"domain": [2256.7, 3395.3], "nice": false, "zero": false}},
"text": {"field": "txt"}
}
},
{
"data": {"name": "title"},
"mark": {"type": "text", "fontSize": 18, "font": "Roboto", "fontWeight": "bold", "align": "left", "baseline": "middle", "color": "#0a0c12"},
"encoding": {
"x": {"field": "t", "type": "quantitative", "title": null, "scale": {"domain": [31.8, 666.8], "nice": false, "zero": false}},
"y": {"field": "p", "type": "quantitative", "title": null, "scale": {"domain": [2256.7, 3395.3], "nice": false, "zero": false}},
"text": {"field": "txt"}
}
}
]
}
],
"resolve": {"scale": {"y": "independent"}}
}
